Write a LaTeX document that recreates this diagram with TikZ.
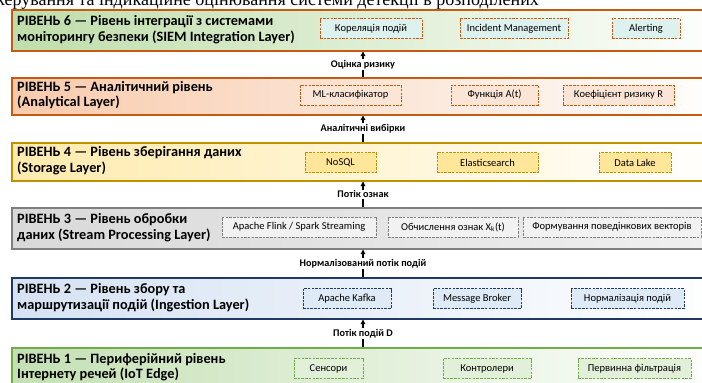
\documentclass[tikz,border=0pt]{standalone}
\usepackage{fontspec}
\setmainfont{Carlito}
\newfontfamily\capfont{Liberation Serif}
\usetikzlibrary{arrows.meta}
\definecolor{b6}{HTML}{C55A11}\definecolor{f6}{HTML}{BFDDAA}\definecolor{i6}{HTML}{DDF2EE}
\definecolor{b5}{HTML}{C55A11}\definecolor{f5}{HTML}{F8CBAD}\definecolor{i5}{HTML}{FBE5D6}
\definecolor{b4}{HTML}{BF9000}\definecolor{f4}{HTML}{FFE699}\definecolor{i4}{HTML}{FFE699}
\definecolor{b3}{HTML}{7F7F7F}\definecolor{f3}{HTML}{D9D9D9}\definecolor{i3}{HTML}{F2F2F2}
\definecolor{b2}{HTML}{203864}\definecolor{f2}{HTML}{D6E2F3}\definecolor{i2}{HTML}{DEEBF7}
\definecolor{b1}{HTML}{70AD47}\definecolor{f1}{HTML}{C5E0B4}\definecolor{i1}{HTML}{E2F0D9}
\tikzset{
  x=1pt,y=-1pt,
  band/.style={draw=#1, line width=1.5pt, anchor=north west, minimum width=720pt, inner sep=0pt},
  title/.style={anchor=west, align=left, font=\bfseries\fontsize{14.3}{15.5}\selectfont, inner sep=0pt},
  ibox/.style={draw=#1, dashed, dash pattern=on 2.5pt off 1.2pt, line width=0.8pt, minimum height=20pt, inner sep=1pt, font=\fontsize{10.5}{11}\selectfont},
  lbl/.style={fill=white, inner sep=1pt, font=\bfseries\fontsize{10.2}{11}\selectfont},
  arr/.style={line width=1.1pt, -{Triangle[width=4.5pt,length=4.5pt]}}
}
\begin{document}
\begin{tikzpicture}
\useasboundingbox (0,0) rectangle (702,383);
\clip (0,0) rectangle (702,383);
\node[anchor=base west, font=\capfont\fontsize{18}{18}\selectfont, inner sep=0pt] (cap) at (-4,5.5) {керування та індикаційне оцінювання системи детекції в розподілених};
% bands
\node[band=b6, left color=f6, right color=white, minimum height=41pt] (L6) at (11,9) {};
\node[band=b5, left color=f5, right color=white, minimum height=37pt] (L5) at (11,77) {};
\node[band=b4, left color=f4!80, right color=white, minimum height=38pt] (L4) at (11,142) {};
\node[band=b3, left color=f3, right color=f3!40, minimum height=41pt] (L3) at (11,207) {};
\node[band=b2, left color=f2, right color=white, minimum height=41pt] (L2) at (11,277) {};
\node[band=b1, left color=f1, right color=white, minimum height=44pt] (L1) at (11,347) {};
% titles
\node[title] (T6) at (17,29.5) {РІВЕНЬ 6 — Рівень інтеграції з системами\\моніторингу безпеки (SIEM Integration Layer)};
\node[title] (T5) at (17,95) {РІВЕНЬ 5 — Аналітичний рівень\\(Analytical Layer)};
\node[title] (T4) at (17,160.5) {РІВЕНЬ 4 — Рівень зберігання даних\\(Storage Layer)};
\node[title] (T3) at (17,227.5) {РІВЕНЬ 3 — Рівень обробки\\даних (Stream Processing Layer)};
\node[title] (T2) at (17,297.5) {РІВЕНЬ 2 — Рівень збору та\\маршрутизації подій (Ingestion Layer)};
\node[title] (T1) at (17,367) {РІВЕНЬ 1 — Периферійний рівень\\Інтернету речей (IoT Edge)};
% inner boxes
\node[ibox=b6, fill=i6, minimum width=102pt] (a61) at (371,28.5) {Кореляція подій};
\node[ibox=b6, fill=i6, minimum width=108pt] (a62) at (514,28.5) {Incident Management};
\node[ibox=b6, fill=i6, minimum width=68pt] (a63) at (646,28.5) {Alerting};
\node[ibox=b5, fill=i5, minimum width=101pt] (a51) at (350.5,95) {ML-класифікатор};
\node[ibox=b5, fill=i5, minimum width=87pt] (a52) at (494.5,95) {Функція A(t)};
\node[ibox=b5, fill=i5, minimum width=111pt] (a53) at (618.5,95) {Коефіцієнт ризику R};
\node[ibox=b4, fill=i4, minimum width=71pt] (a41) at (340.5,162.5) {NoSQL};
\node[ibox=b4, fill=i4, minimum width=101pt] (a42) at (487.5,162.5) {Elasticsearch};
\node[ibox=b4, fill=i4, minimum width=72pt] (a43) at (635,162.5) {Data Lake};
\node[ibox=b3, fill=i3, minimum width=154pt] (a31) at (299,227) {Apache Flink / Spark Streaming};
\node[ibox=b3, fill=i3, minimum width=130pt] (a32) at (453,227) {Обчислення ознак X\textsubscript{k}(t)};
\node[ibox=b3, fill=i3, minimum width=178pt] (a33) at (612,227) {Формування поведінкових векторів};
\node[ibox=b2, fill=i2, minimum width=88pt] (a21) at (347,298.5) {Apache Kafka};
\node[ibox=b2, fill=i2, minimum width=88pt] (a22) at (477,298.5) {Message Broker};
\node[ibox=b2, fill=i2, minimum width=113pt] (a23) at (627.5,298.5) {Нормалізація подій};
\node[ibox=b1, fill=i1, minimum width=69pt] (a11) at (328.5,368.5) {Сенсори};
\node[ibox=b1, fill=i1, minimum width=88pt] (a12) at (487,368.5) {Контролери};
\node[ibox=b1, fill=i1, minimum width=113pt] (a13) at (634.5,368.5) {Первинна фільтрація};
% connectors
\coordinate (ax) at (363,0);
\draw[arr] (L1.north -| ax) -- (L2.south -| ax) node[midway, lbl] (n1) {Потік подій D};
\draw[arr] (L2.north -| ax) -- (L3.south -| ax) node[midway, lbl] (n2) {Нормалізований потік подій};
\draw[arr] (L3.north -| ax) -- (L4.south -| ax) node[midway, lbl] (n3) {Потік ознак};
\draw[arr] (L4.north -| ax) -- (L5.south -| ax) node[midway, lbl] (n4) {Аналітичні вибірки};
\draw[arr] (L5.north -| ax) -- (L6.south -| ax) node[midway, lbl] (n5) {Оцінка ризику};
\end{tikzpicture}
\end{document}
